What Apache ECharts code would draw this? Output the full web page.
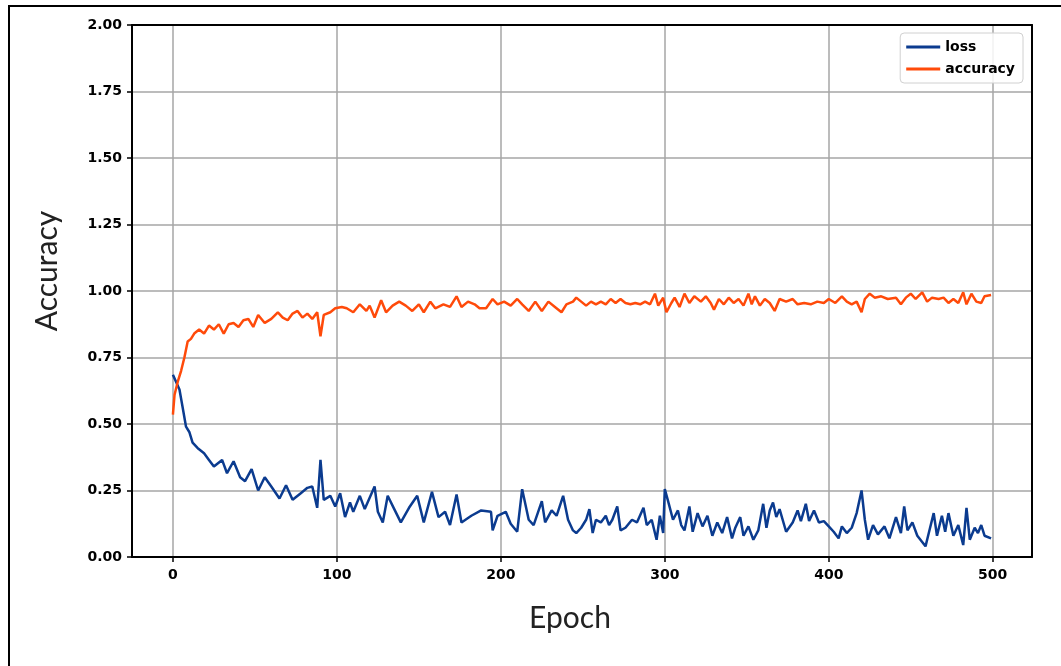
<!DOCTYPE html>
<html>
<head>
<meta charset="utf-8">
<script src="https://cdn.jsdelivr.net/npm/echarts@6/dist/echarts.min.js"></script>
<style>
  html, body { margin: 0; padding: 0; background: #fff; }
  #chart { width: 1061px; height: 666px; }
</style>
</head>
<body>
<div id="chart"></div>
<script>
// values (epoch, value)
var lossEpoch = [0, 4, 6, 8, 10, 12, 15, 19, 22, 25, 30, 33, 37, 41, 44, 48, 52, 56, 60, 65, 69, 73, 78, 82, 85, 88, 90, 92, 96, 99,
  102, 105, 108, 110, 114, 117, 123, 125, 128, 131, 135, 139, 144, 149, 153, 158, 162, 166, 169, 173, 176, 182, 188, 194, 195, 198,
  203, 206, 210, 213, 217, 220, 225, 227, 231, 234, 238, 241, 244, 246, 249, 252, 254, 256, 258, 261, 264, 266, 268, 271, 273, 276,
  280, 283, 287, 289, 292, 295, 297, 299, 300, 302, 305, 308, 310, 312, 315, 317, 320, 323, 326, 329, 332, 335, 338, 341, 343, 346,
  348, 351, 354, 357, 360, 362, 364, 366, 368, 370, 374, 378, 381, 383, 386, 388, 391, 394, 397, 400, 403, 406, 408, 411, 414, 417,
  420, 422, 424, 427, 430, 434, 437, 441, 444, 446, 448, 451, 454, 459, 461, 464, 466, 469, 471, 473, 476, 479, 482, 484, 486, 489,
  491, 493, 495, 499];
var lossValue = [0.685, 0.63, 0.56, 0.49, 0.47, 0.43, 0.41, 0.39, 0.365, 0.34, 0.365, 0.315, 0.36, 0.30, 0.285, 0.33, 0.25, 0.30, 0.265, 0.22, 0.27, 0.215, 0.24, 0.26, 0.265, 0.185, 0.365, 0.215, 0.23, 0.19,
  0.24, 0.15, 0.205, 0.17, 0.23, 0.18, 0.265, 0.17, 0.13, 0.23, 0.18, 0.13, 0.185, 0.23, 0.13, 0.245, 0.15, 0.17, 0.12, 0.235, 0.13, 0.155, 0.175, 0.17, 0.10, 0.155,
  0.17, 0.125, 0.095, 0.255, 0.14, 0.12, 0.21, 0.13, 0.175, 0.155, 0.23, 0.14, 0.10, 0.09, 0.11, 0.14, 0.18, 0.09, 0.14, 0.13, 0.155, 0.12, 0.14, 0.19, 0.10, 0.11,
  0.14, 0.13, 0.185, 0.12, 0.14, 0.065, 0.155, 0.09, 0.255, 0.21, 0.14, 0.175, 0.12, 0.10, 0.19, 0.095, 0.165, 0.115, 0.155, 0.08, 0.13, 0.09, 0.15, 0.07, 0.11, 0.15,
  0.08, 0.115, 0.065, 0.10, 0.20, 0.11, 0.175, 0.205, 0.15, 0.18, 0.095, 0.13, 0.175, 0.135, 0.20, 0.135, 0.175, 0.13, 0.135, 0.115, 0.095, 0.07, 0.115, 0.09, 0.11, 0.165,
  0.25, 0.14, 0.065, 0.12, 0.085, 0.115, 0.07, 0.15, 0.09, 0.19, 0.10, 0.13, 0.08, 0.04, 0.09, 0.165, 0.08, 0.155, 0.095, 0.165, 0.08, 0.12, 0.045, 0.185, 0.065, 0.11,
  0.09, 0.12, 0.08, 0.07];

var accEpoch = [0, 1, 3, 5, 7, 9, 11, 13, 16, 19, 22, 25, 28, 31, 34, 37, 40, 43, 46, 49, 52, 56, 60, 64, 67, 70, 73, 76, 79, 82,
  85, 88, 90, 92, 96, 99, 103, 106, 110, 114, 118, 120, 123, 127, 130, 134, 138, 142, 146, 150, 153, 157, 160, 165, 169, 173, 176, 180, 184, 187,
  191, 195, 198, 202, 206, 210, 213, 217, 221, 225, 229, 233, 237, 240, 244, 246, 249, 252, 255, 258, 261, 264, 267, 270, 273, 276, 279, 282,
  285, 288, 291, 294, 296, 299, 301, 304, 306, 309, 312, 315, 318, 322, 325, 328, 330, 333, 336, 339, 342, 345, 348, 351, 353, 355, 358, 361,
  364, 367, 370, 374, 378, 381, 385, 389, 393, 397, 400, 404, 408, 411, 414, 417, 420, 422, 425, 428, 432, 436, 441, 444, 447, 450, 453, 457,
  460, 463, 467, 470, 473, 476, 479, 482, 484, 487, 490, 493, 495, 499];
var accValue = [0.535, 0.61, 0.66, 0.70, 0.75, 0.81, 0.82, 0.84, 0.855, 0.84, 0.87, 0.855, 0.875, 0.84, 0.875, 0.88, 0.865, 0.89, 0.895, 0.865, 0.91, 0.88, 0.895, 0.92, 0.90, 0.89, 0.915, 0.925, 0.90, 0.915,
  0.895, 0.92, 0.83, 0.91, 0.92, 0.935, 0.94, 0.935, 0.92, 0.95, 0.925, 0.945, 0.90, 0.965, 0.92, 0.945, 0.96, 0.945, 0.925, 0.95, 0.92, 0.96, 0.935, 0.95, 0.94, 0.98, 0.94, 0.96, 0.95, 0.935,
  0.935, 0.97, 0.95, 0.96, 0.945, 0.97, 0.95, 0.925, 0.96, 0.925, 0.96, 0.94, 0.92, 0.95, 0.96, 0.975, 0.96, 0.945, 0.96, 0.95, 0.96, 0.95, 0.97, 0.955, 0.97, 0.955, 0.95, 0.955,
  0.95, 0.96, 0.95, 0.99, 0.945, 0.975, 0.92, 0.955, 0.975, 0.94, 0.99, 0.955, 0.98, 0.96, 0.98, 0.955, 0.93, 0.97, 0.95, 0.975, 0.955, 0.97, 0.945, 0.99, 0.95, 0.98, 0.945, 0.97,
  0.955, 0.925, 0.97, 0.96, 0.97, 0.95, 0.955, 0.95, 0.96, 0.955, 0.97, 0.955, 0.98, 0.96, 0.95, 0.96, 0.92, 0.97, 0.99, 0.975, 0.98, 0.97, 0.975, 0.95, 0.975, 0.99, 0.97, 0.995,
  0.96, 0.975, 0.97, 0.975, 0.955, 0.97, 0.955, 0.995, 0.95, 0.99, 0.96, 0.955, 0.98, 0.985];

var xTicks = [0, 100, 200, 300, 400, 500];

function pairs(xs, ys) {
  return xs.map(function (x, i) { return [x, ys[i]]; });
}

var tickFont = { fontFamily: 'DejaVu Sans', fontSize: 14, fontWeight: 'bold', color: '#000' };
var gridLine = { show: true, lineStyle: { color: '#a6a6a6', width: 1.5 } };

var chart = echarts.init(document.getElementById('chart'));
chart.setOption({
  animation: false,
  backgroundColor: '#fff',
  graphic: [{
    type: 'rect',
    shape: { x: 9, y: 6, width: 1100, height: 700 },
    style: { fill: 'none', stroke: '#000', lineWidth: 2 },
    z: -10
  }],
  grid: { left: 132, right: 29, top: 25, bottom: 109, containLabel: false },
  legend: {
    orient: 'vertical',
    right: 38,
    top: 33,
    padding: [7, 8, 7, 6],
    itemGap: 8,
    itemWidth: 34,
    itemHeight: 3,
    icon: 'rect',
    backgroundColor: 'rgba(255,255,255,0.85)',
    borderColor: '#d0d0d0',
    borderWidth: 1,
    borderRadius: 4,
    textStyle: { fontFamily: 'DejaVu Sans', fontSize: 14, fontWeight: 'bold', color: '#000' },
    data: ['loss', 'accuracy']
  },
  xAxis: [{
    type: 'value',
    min: -24.95,
    max: 523.95,
    name: 'Epoch',
    nameLocation: 'middle',
    nameGap: 46,
    nameTextStyle: { fontFamily: 'Lato', fontSize: 30, color: '#222', padding: [0, 24, 0, 0] },
    axisLine: { show: true, onZero: false, lineStyle: { color: '#000', width: 2 } },
    axisTick: { show: true, length: 5, customValues: xTicks, lineStyle: { color: '#000', width: 1.5 } },
    axisLabel: Object.assign({ margin: 11, customValues: xTicks }, tickFont),
    splitLine: gridLine
  }, {
    type: 'value',
    position: 'top',
    min: -24.95,
    max: 523.95,
    axisLine: { show: true, onZero: false, lineStyle: { color: '#000', width: 2 } },
    axisTick: { show: false },
    axisLabel: { show: false },
    splitLine: { show: false }
  }],
  yAxis: [{
    type: 'value',
    min: 0,
    max: 2,
    interval: 0.25,
    name: 'Accuracy',
    nameLocation: 'middle',
    nameGap: 70,
    nameTextStyle: { fontFamily: 'Lato', fontSize: 30, color: '#222', padding: [0, 0, 0, 40] },
    axisLine: { show: true, onZero: false, lineStyle: { color: '#000', width: 2 } },
    axisTick: { show: true, length: 5, lineStyle: { color: '#000', width: 1.5 } },
    axisLabel: Object.assign({ margin: 10, formatter: function (v) { return v.toFixed(2); } }, tickFont),
    splitLine: gridLine
  }, {
    type: 'value',
    position: 'right',
    min: 0,
    max: 2,
    axisLine: { show: true, onZero: false, lineStyle: { color: '#000', width: 2 } },
    axisTick: { show: false },
    axisLabel: { show: false },
    splitLine: { show: false }
  }],
  series: [{
    name: 'loss',
    type: 'line',
    showSymbol: false,
    symbol: 'none',
    color: '#0b3b8f',
    lineStyle: { width: 2.5, color: '#0b3b8f' },
    data: pairs(lossEpoch, lossValue)
  }, {
    name: 'accuracy',
    type: 'line',
    showSymbol: false,
    symbol: 'none',
    color: '#ff4a0a',
    lineStyle: { width: 2.5, color: '#ff4a0a' },
    data: pairs(accEpoch, accValue)
  }]
});
</script>
</body>
</html>
